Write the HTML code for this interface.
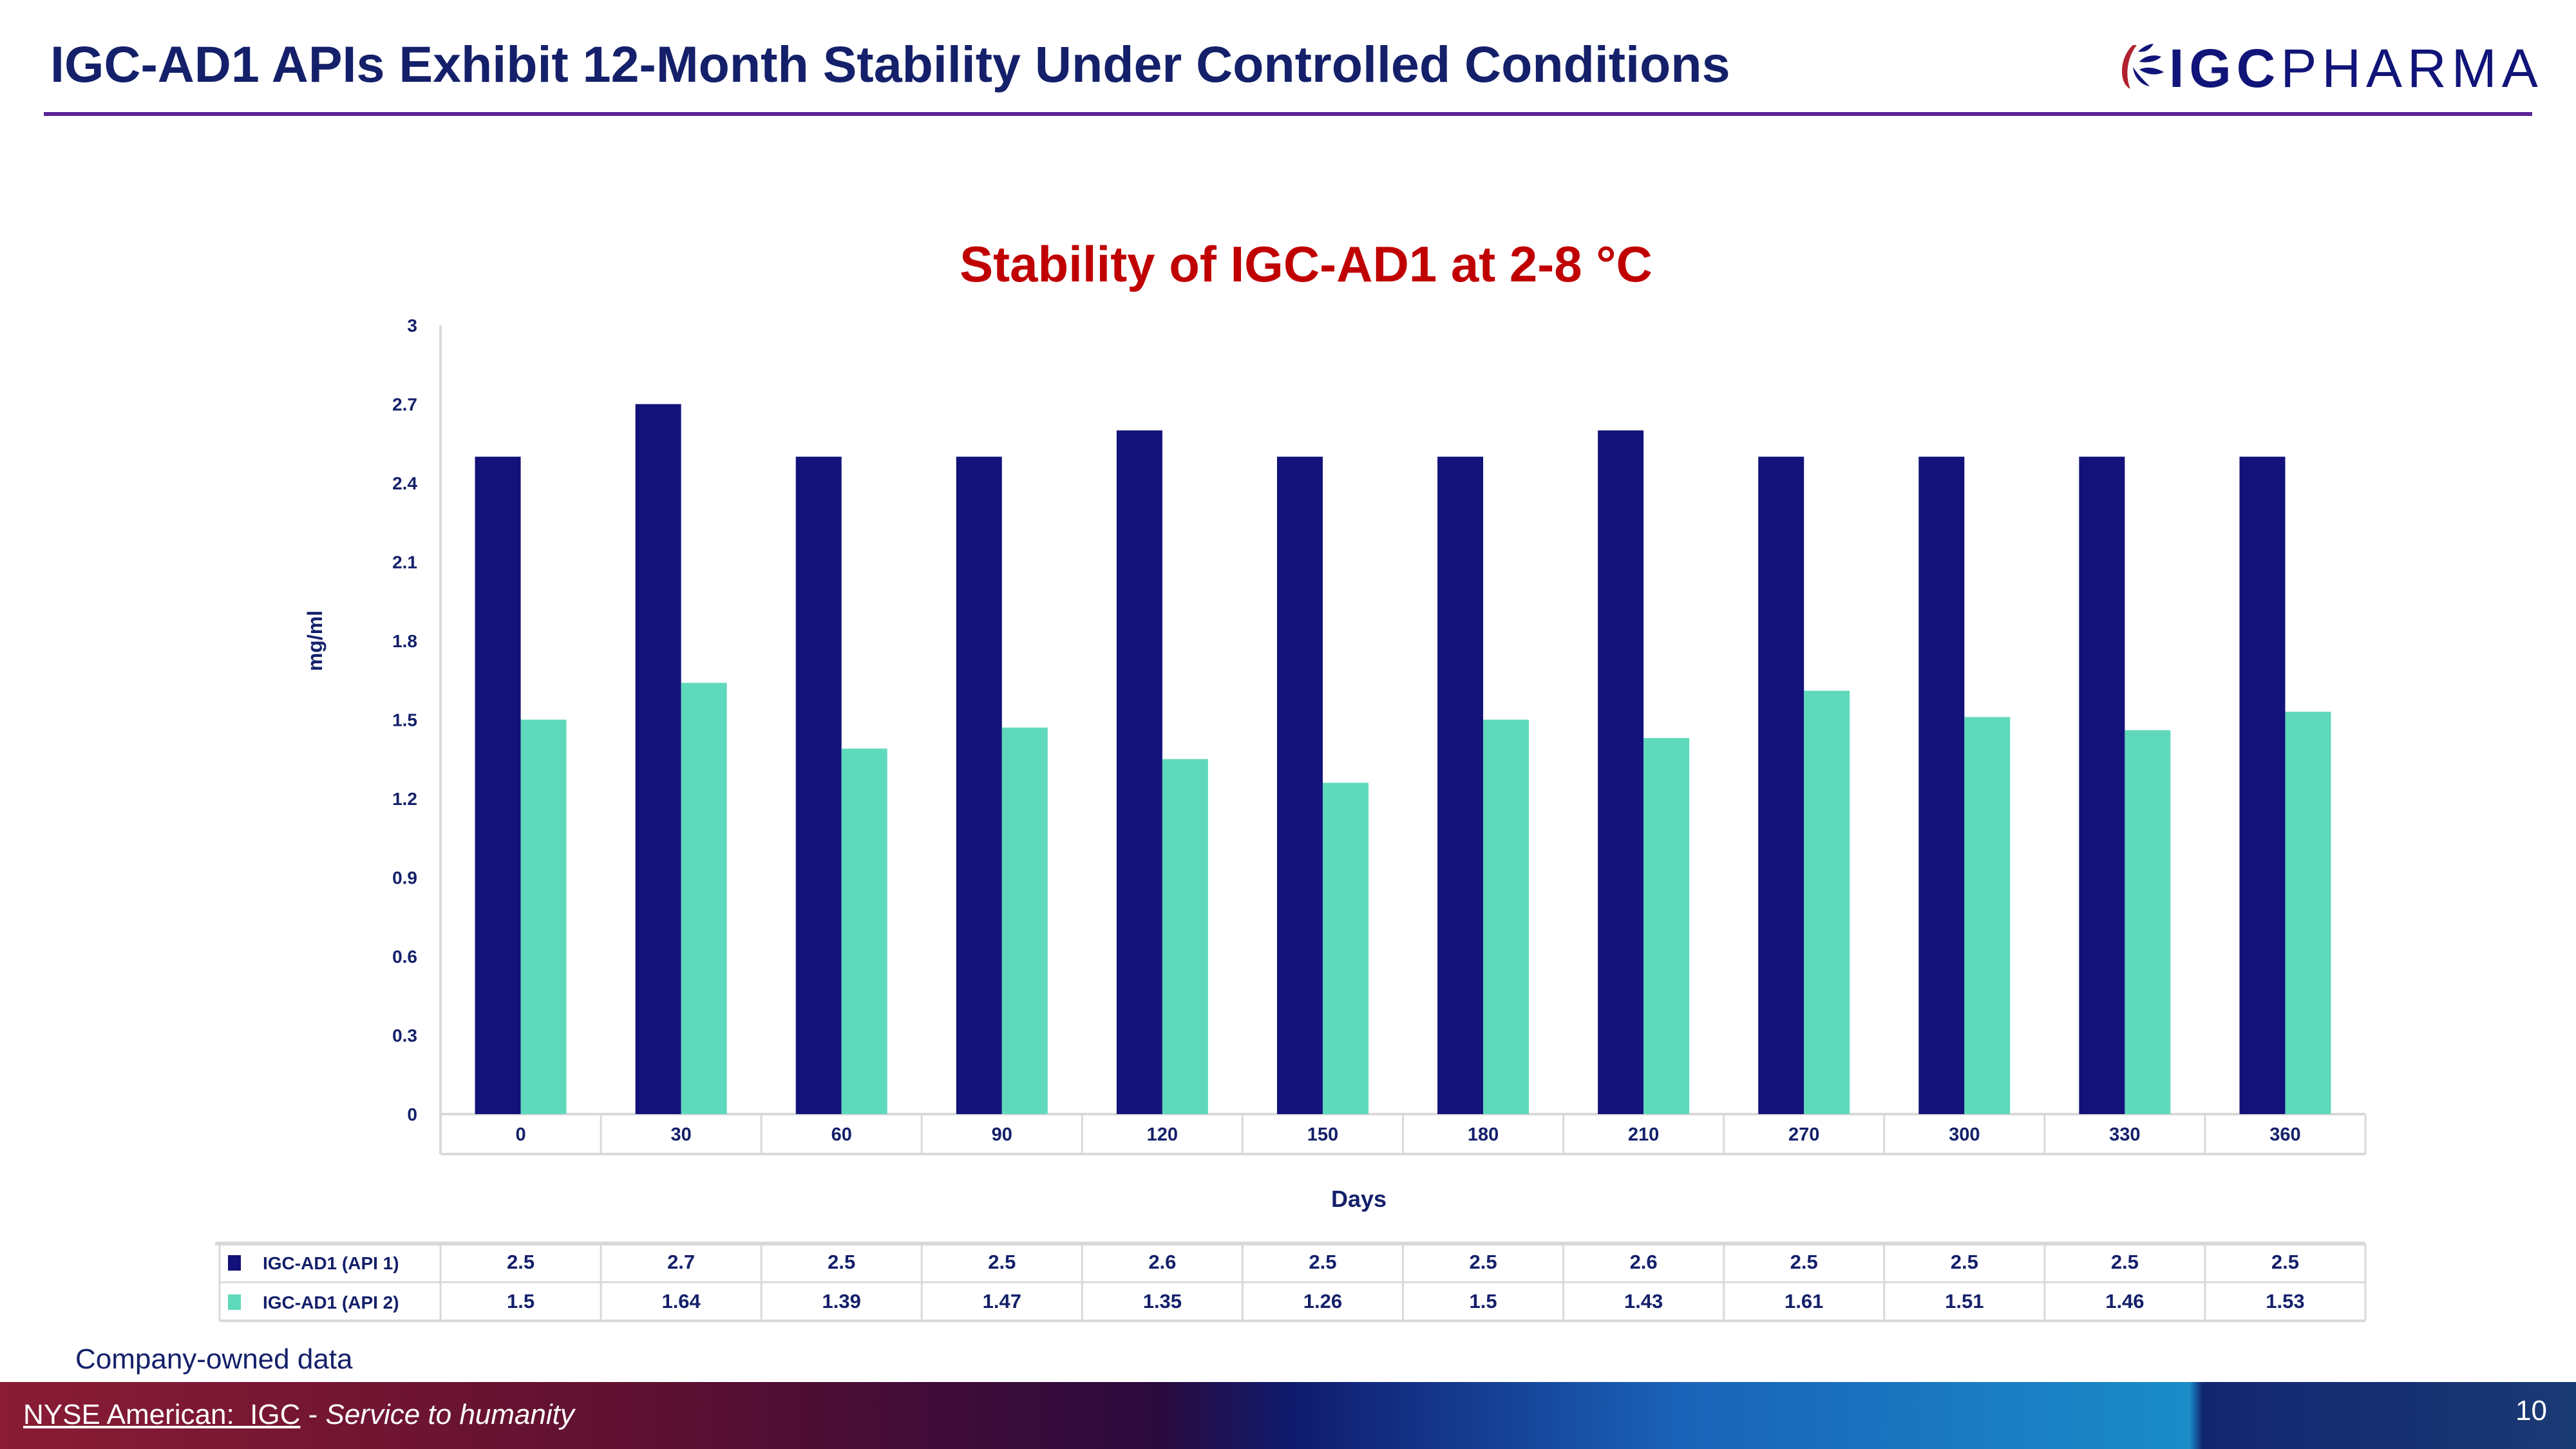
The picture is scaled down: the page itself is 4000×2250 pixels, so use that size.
<!DOCTYPE html>
<html><head><meta charset="utf-8">
<style>
html,body{margin:0;padding:0;background:#fff;}
body{width:4000px;height:2250px;position:relative;overflow:hidden;font-family:"Liberation Sans",sans-serif;}
</style></head>
<body>
<div style="position:absolute;left:78px;top:54px;font-size:79px;font-weight:bold;color:#14206a;">IGC-AD1 APIs Exhibit 12-Month Stability Under Controlled Conditions</div>
<div style="position:absolute;left:68px;top:174px;width:3864px;height:6px;background:#5a2395;"></div>
<div style="position:absolute;left:3290px;top:60px;width:660px;height:85px;">
  <svg width="120" height="85" style="position:absolute;left:0;top:0">
    <path d="M22 10 C0 30 0 70 18 78 C10 60 12 30 28 10 Z" fill="#b0202e"/>
    <path d="M30 20 C38 12 48 8 54 8 C48 18 40 22 30 20Z" fill="#111478"/>
    <path d="M32 36 C40 26 56 24 66 28 C58 36 44 38 32 36Z" fill="#111478"/>
    <path d="M32 48 C44 42 60 46 70 52 C58 58 44 56 32 48Z" fill="#111478"/>
    <path d="M22 44 C30 56 40 66 48 74 C36 72 24 62 22 44Z" fill="#111478"/>
  </svg>
  <span style="position:absolute;left:78px;top:-2px;font-size:84px;color:#111478;letter-spacing:8px;"><b>IGC</b>PHARMA</span>
</div>
<div style="position:absolute;left:117px;top:2086px;font-size:44px;color:#14206a;">Company-owned data</div>
<div style="position:absolute;left:0;top:2146px;width:4000px;height:104px;background:linear-gradient(90deg,#8a1c35 0%,#5e1030 25%,#2a0a3e 45%,#101a6c 50%,#1a62b8 65%,#1a8cc8 85%,#122670 85.5%,#1a3a74 100%);"></div>
<div style="position:absolute;left:36px;top:2172px;font-size:44px;color:#fff;"><span style="text-decoration:underline">NYSE American:&nbsp; IGC</span> - <i>Service to humanity</i></div>
<div style="position:absolute;left:3906px;top:2166px;font-size:44px;color:#fff;">10</div>

<svg id="chart" width="4000" height="2250" style="position:absolute;left:0;top:0" font-family="Liberation Sans, sans-serif"></svg>
<script>
const categories=["0","30","60","90","120","150","180","210","270","300","330","360"];
const api1=[2.5,2.7,2.5,2.5,2.6,2.5,2.5,2.6,2.5,2.5,2.5,2.5];
const api2=[1.5,1.64,1.39,1.47,1.35,1.26,1.5,1.43,1.61,1.51,1.46,1.53];
const yTicks=[0,0.3,0.6,0.9,1.2,1.5,1.8,2.1,2.4,2.7,3];
const seriesNames=["IGC-AD1 (API 1)","IGC-AD1 (API 2)"];
const colors=["#12127a","#5fd9bb"];
const svg=document.getElementById('chart');
const NS="http://www.w3.org/2000/svg";
const L=684,R=3673,T=505,B=1730,yMax=3;
const cw=(R-L)/categories.length;
const y=v=>B-(v/yMax)*(B-T);
const x=i=>L+cw*i;
function mk(tag,at,txt){const e=document.createElementNS(NS,tag);for(const k in at)e.setAttribute(k,at[k]);if(txt!==undefined)e.textContent=txt;svg.appendChild(e);return e;}
let t=mk('text',{x:2028,y:437,'text-anchor':'middle','font-size':78,'font-weight':'bold',fill:'#c00000'},'Stability of IGC-AD1 at 2-8 °C');


yTicks.forEach(v=>{const e=mk('text',{x:648,y:y(v)+10,'text-anchor':'end','font-size':28,'font-weight':'bold',fill:'#14206a'},String(v));

});
t=mk('text',{x:0,y:0,transform:'translate(500,995) rotate(-90)','text-anchor':'middle','font-size':32,'font-weight':'bold',fill:'#14206a'},'mg/ml');


const gray='#d9d9d9';
let ln=mk('line',{x1:L,y1:T,x2:L,y2:1792,stroke:gray,'stroke-width':4});


mk('line',{x1:L,y1:B,x2:R,y2:B,stroke:gray,'stroke-width':4});
mk('line',{x1:L,y1:1792,x2:R,y2:1792,stroke:gray,'stroke-width':4});
const bw=cw*0.285;
categories.forEach((c,i)=>{
  const cx=x(i)+cw/2;
  let b=mk('rect',{x:cx-bw,y:y(api1[i]),width:bw,height:B-y(api1[i]),fill:colors[0]});
  
  
  b=mk('rect',{x:cx,y:y(api2[i]),width:bw,height:B-y(api2[i]),fill:colors[1]});
  
  
  mk('line',{x1:x(i+1),y1:B,x2:x(i+1),y2:1792,stroke:gray,'stroke-width':3});
  let e=mk('text',{x:cx,y:1771,'text-anchor':'middle','font-size':29,'font-weight':'bold',fill:'#14206a'},c);
  
  
  mk('line',{x1:x(i+1),y1:1931,x2:x(i+1),y2:2051,stroke:gray,'stroke-width':3});
  e=mk('text',{x:cx,y:1970,'text-anchor':'middle','font-size':31,'font-weight':'bold',fill:'#14206a'},String(api1[i]));
  
  
  e=mk('text',{x:cx,y:2031,'text-anchor':'middle','font-size':31,'font-weight':'bold',fill:'#14206a'},String(api2[i]));
  
  
});
t=mk('text',{x:2110,y:1874,'text-anchor':'middle','font-size':36,'font-weight':'bold',fill:'#14206a'},'Days');


mk('line',{x1:334,y1:1931,x2:R,y2:1931,stroke:gray,'stroke-width':6});
mk('line',{x1:341,y1:1991,x2:R,y2:1991,stroke:gray,'stroke-width':3});
mk('line',{x1:341,y1:2051,x2:R,y2:2051,stroke:gray,'stroke-width':4});
mk('line',{x1:341,y1:1931,x2:341,y2:2051,stroke:gray,'stroke-width':3});
mk('line',{x1:L,y1:1931,x2:L,y2:2051,stroke:gray,'stroke-width':3});
seriesNames.forEach((n,k)=>{
  const yy=1961+k*61;
  let r=mk('rect',{x:354,y:yy-12,width:20,height:24,fill:colors[k]});
  
  
  r=mk('text',{x:408,y:yy+10,'font-size':28,'font-weight':'bold',fill:'#14206a'},n);
  
  
});
</script>
</body></html>
